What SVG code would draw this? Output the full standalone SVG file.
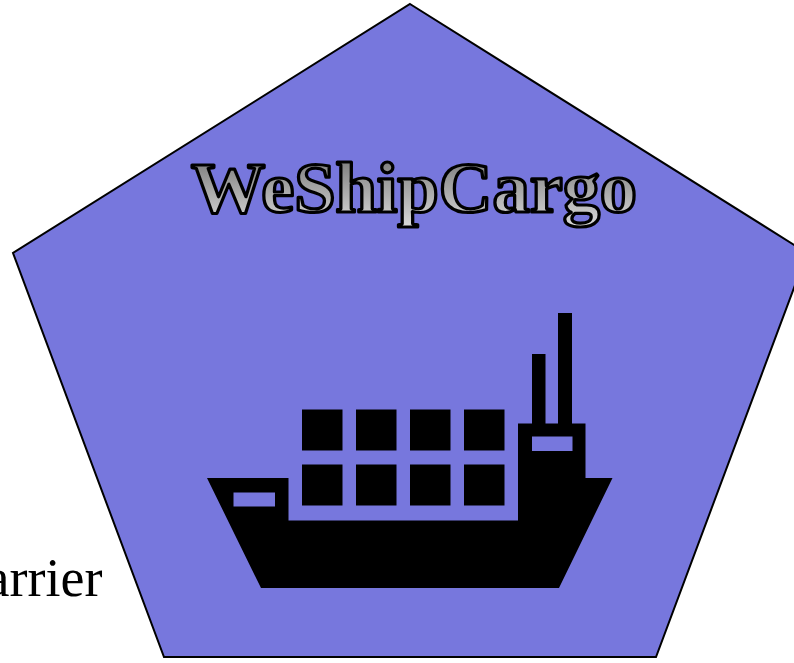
<svg xmlns="http://www.w3.org/2000/svg" width="794" height="663" viewBox="0 0 794 663">
<defs>
<linearGradient id="g" x1="0" y1="0" x2="0" y2="1"><stop offset="0" stop-color="#6e6e6e"/><stop offset="1" stop-color="#dcdcdc"/></linearGradient>
<filter id="soft" x="-5%" y="-5%" width="110%" height="110%"><feGaussianBlur stdDeviation="0.6"/></filter>
</defs>
<style>
.title{font-family:"Liberation Serif","Times New Roman",serif;font-weight:bold;font-size:72px;fill:url(#g);stroke:#000;stroke-width:3.2px;stroke-linejoin:round}
.label{font-family:"Liberation Serif","Times New Roman",serif;font-size:54px;fill:#000}
</style>
<rect width="794" height="663" fill="#fff"/>
<g id="carrier-label"><text class="label" x="102.500" y="596" text-anchor="end">arrier</text></g>
<g id="pentagon"><polygon points="410,4 807,253 656,657 164,657 13,253" fill="#7777dd" stroke="#000" stroke-width="2"/></g>
<g id="title"><text class="title" x="191" y="212" textLength="446" lengthAdjust="spacingAndGlyphs">WeShipCargo</text></g>
<g id="ship" fill="#000" filter="url(#soft)">
<path fill-rule="evenodd" d="M207 478H288.500V520.500H518V423.500H532V354H545.500V423.500H558V313H572V423.500H585.500V478H612.500L559 588H261ZM233.500 492.500V506.500H275V492.500ZM532 436.500V451H572.500V436.500Z"/>
<rect x="302" y="409.500" width="40.500" height="41"/>
<rect x="356" y="409.500" width="40.500" height="41"/>
<rect x="410" y="409.500" width="40.500" height="41"/>
<rect x="464" y="409.500" width="40.500" height="41"/>
<rect x="302" y="464.500" width="40.500" height="41"/>
<rect x="356" y="464.500" width="40.500" height="41"/>
<rect x="410" y="464.500" width="40.500" height="41"/>
<rect x="464" y="464.500" width="40.500" height="41"/>
</g>
</svg>
